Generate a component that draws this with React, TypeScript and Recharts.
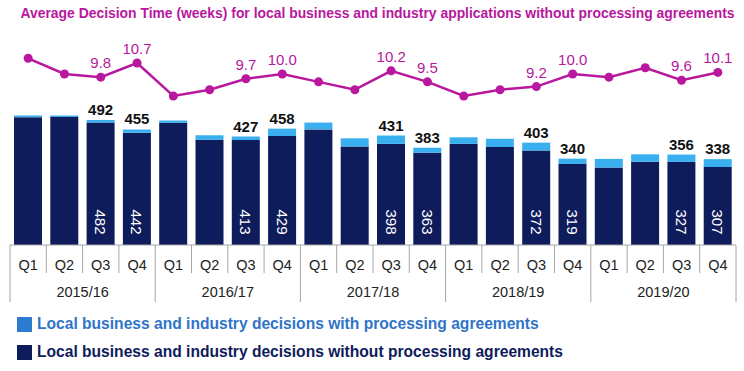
import { ComposedChart, Bar, Line, XAxis, YAxis, LabelList } from 'recharts'

const quarters = ['Q1', 'Q2', 'Q3', 'Q4', 'Q1', 'Q2', 'Q3', 'Q4', 'Q1', 'Q2', 'Q3', 'Q4', 'Q1', 'Q2', 'Q3', 'Q4', 'Q1', 'Q2', 'Q3', 'Q4']
const years = ['2015/16', '2015/16', '2015/16', '2015/16', '2016/17', '2016/17', '2016/17', '2016/17', '2017/18', '2017/18', '2017/18', '2017/18', '2018/19', '2018/19', '2018/19', '2018/19', '2019/20', '2019/20', '2019/20', '2019/20']
const totalDecisions = [510, 510, 492, 455, 490, 432, 427, 458, 482, 420, 431, 383, 424, 418, 403, 340, 339, 357, 356, 338]
const withoutAgreements = [503, 504, 482, 442, 481, 414, 413, 429, 455, 388, 398, 363, 398, 386, 372, 319, 305, 328, 327, 307]
const avgWeeks = [11.0, 10.0, 9.8, 10.7, 8.6, 9.0, 9.7, 10.0, 9.5, 9.0, 10.2, 9.5, 8.6, 9.0, 9.2, 10.0, 9.8, 10.4, 9.6, 10.1]
const labelled = [false, false, true, true, false, false, true, true, false, false, true, true, false, false, true, true, false, false, true, true]

const data = quarters.map((q, i) => ({
  key: `${years[i]} ${q}`,
  quarter: q,
  year: years[i],
  without: withoutAgreements[i],
  withAgr: totalDecisions[i] - withoutAgreements[i],
  total: totalDecisions[i],
  weeks: avgWeeks[i],
  show: labelled[i]
}))

const FONT = '"Liberation Sans", Arial, sans-serif'
const NAVY = '#0f1c5b'
const LIGHT = '#3aaff0'
const MAGENTA = '#b8179e'
const GRID = '#a6a6a6'

const W = 744
const H = 371
const LEFT = 10
const RIGHT = 8
const BAND = (W - LEFT - RIGHT) / quarters.length

const QuarterTick = (props: any) => {
  const { x, y, payload } = props
  const i = payload.index
  const half = BAND / 2
  return (
    <g>
      <line x1={x - half} x2={x - half} y1={y} y2={i % 4 === 0 ? y + 57 : y + 28} stroke={GRID} />
      {i === quarters.length - 1 && (
        <line x1={x + half} x2={x + half} y1={y} y2={y + 57} stroke={GRID} />
      )}
      <text x={x} y={y + 25} textAnchor="middle" fontSize={14.5} fontFamily={FONT} fill="#222">
        {quarters[i]}
      </text>
      {i % 4 === 1 && (
        <text x={x + half} y={y + 52} textAnchor="middle" fontSize={14.5} fontFamily={FONT} fill="#222">
          {years[i]}
        </text>
      )}
    </g>
  )
}

const InsideLabel = (props: any) => {
  const { x, y, width, height, index } = props
  if (!labelled[index]) return null
  const cx = x + width / 2
  const cy = y + height - 23
  return (
    <text
      x={cx}
      y={cy}
      transform={`rotate(90 ${cx} ${cy})`}
      textAnchor="middle"
      dominantBaseline="central"
      fontSize={15}
      fontFamily={FONT}
      fill="#fff"
    >
      {withoutAgreements[index]}
    </text>
  )
}

const TotalLabel = (props: any) => {
  const { x, y, width, index } = props
  if (!labelled[index]) return null
  return (
    <text x={x + width / 2} y={y - 5} textAnchor="middle" fontSize={15} fontWeight="bold" fontFamily={FONT} fill="#111">
      {totalDecisions[index]}
    </text>
  )
}

const WeeksLabel = (props: any) => {
  const { x, y, index } = props
  if (!labelled[index]) return null
  return (
    <text x={x} y={y - 9} textAnchor="middle" fontSize={15} fontFamily={FONT} fill={MAGENTA}>
      {avgWeeks[index].toFixed(1)}
    </text>
  )
}

const legendItems = [
  { label: 'Local business and industry decisions with processing agreements', box: '#2d7cd2', text: '#2f74c8', top: 315 },
  { label: 'Local business and industry decisions without processing agreements', box: NAVY, text: NAVY, top: 343 }
]

export default function App() {
  return (
    <div style={{ position: 'absolute', left: 0, top: 0, width: W, height: H, background: '#fff', fontFamily: FONT }}>
      <div
        style={{
          position: 'absolute',
          left: 0,
          width: W,
          top: 5,
          textAlign: 'center',
          paddingLeft: 11,
          boxSizing: 'border-box',
          fontSize: 13.9,
          fontWeight: 'bold',
          color: MAGENTA,
          whiteSpace: 'nowrap'
        }}
      >
        Average Decision Time (weeks) for local business and industry applications without processing agreements
      </div>
      <ComposedChart width={W} height={H} data={data} margin={{ top: 40, right: RIGHT, bottom: 66, left: LEFT }} barSize={28}>
        <XAxis
          dataKey="key"
          height={60}
          interval={0}
          tickLine={false}
          tickSize={0}
          tickMargin={0}
          axisLine={{ stroke: GRID }}
          tick={<QuarterTick />}
        />
        <YAxis yAxisId="bars" hide domain={[0, 807]} allowDataOverflow />
        <YAxis yAxisId="weeks" hide domain={[-0.892, 12.166]} allowDataOverflow />
        <Bar yAxisId="bars" dataKey="without" stackId="d" fill={NAVY} isAnimationActive={false}>
          <LabelList dataKey="without" content={<InsideLabel />} />
        </Bar>
        <Bar yAxisId="bars" dataKey="withAgr" stackId="d" fill={LIGHT} isAnimationActive={false}>
          <LabelList dataKey="total" content={<TotalLabel />} />
        </Bar>
        <Line
          yAxisId="weeks"
          dataKey="weeks"
          stroke={MAGENTA}
          strokeWidth={2.5}
          dot={{ r: 4.5, fill: MAGENTA, stroke: MAGENTA, strokeWidth: 0 }}
          isAnimationActive={false}
        >
          <LabelList dataKey="weeks" content={<WeeksLabel />} />
        </Line>
      </ComposedChart>
      {legendItems.map((it) => (
        <div key={it.label} style={{ position: 'absolute', left: 17, top: it.top, display: 'flex', alignItems: 'center' }}>
          <div style={{ width: 15, height: 15, background: it.box, marginRight: 5 }} />
          <span style={{ fontSize: 15.6, fontWeight: 'bold', color: it.text, whiteSpace: 'nowrap' }}>{it.label}</span>
        </div>
      ))}
    </div>
  )
}
